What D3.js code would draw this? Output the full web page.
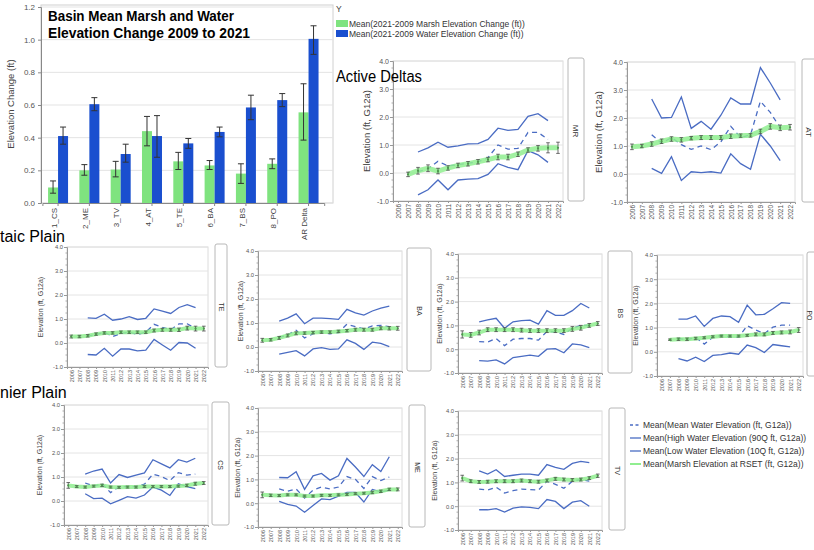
<!DOCTYPE html>
<html><head><meta charset="utf-8">
<script src="https://cdn.jsdelivr.net/npm/d3@7"></script>
<style>body{margin:0;background:#fff;} svg{display:block;font-family:"Liberation Sans",Arial,sans-serif;}</style>
</head><body><svg id="c" width="814" height="550"></svg>
<script>
// ---------- Bar chart data ----------
const barCats = ["1_CS","2_ME","3_TV","4_AT","5_TE","6_BA","7_BS","8_PO","AR Delta"];
const marshChg   = [0.095,0.20,0.205,0.44,0.255,0.23,0.18,0.24,0.555];
const marshChgLo = [0.06,0.17,0.16,0.35,0.205,0.205,0.12,0.21,0.385];
const marshChgHi = [0.135,0.235,0.255,0.53,0.31,0.26,0.24,0.27,0.73];
const waterChg   = [0.41,0.605,0.30,0.41,0.365,0.435,0.585,0.63,1.005];
const waterChgLo = [0.36,0.565,0.25,0.28,0.335,0.405,0.51,0.59,0.91];
const waterChgHi = [0.465,0.645,0.36,0.535,0.395,0.465,0.66,0.67,1.085];
const barTicks = [0,0.2,0.4,0.6,0.8,1.0,1.2];

// ---------- Panel data ----------
const years = [2006,2007,2008,2009,2010,2011,2012,2013,2014,2015,2016,2017,2018,2019,2020,2021,2022];
const panelTicks = [-1,0,1,2,3,4];

const mrHigh = [null,null,0.75,0.9,1.1,0.92,0.97,1.04,1.05,1.2,1.6,1.52,1.56,2.02,2.12,1.87,null];
const mrLow  = [null,null,-0.78,-0.6,-0.25,-0.6,-0.25,-0.22,-0.2,-0.05,0.33,0.2,0.12,0.8,0.65,0.38,null];
const mrMean = [null,null,0.05,0.15,0.42,0.25,0.3,0.35,0.4,0.55,1.0,0.85,0.88,1.45,1.45,1.2,null];
const mrMarsh= [null,-0.05,0.08,0.17,0.07,0.18,0.27,0.33,0.4,0.48,0.57,0.57,0.67,0.82,0.88,0.9,0.9];
const mrErr  = [null,0.08,0.12,0.12,0.1,0.08,0.08,0.08,0.08,0.08,0.1,0.1,0.08,0.08,0.1,0.18,0.2];

const atHigh = [null,null,2.68,2.0,2.02,2.75,1.63,1.88,1.6,2.1,2.72,2.5,2.5,3.8,3.25,2.65,null];
const atLow  = [null,null,0.2,0.02,0.62,-0.23,0.08,0.05,0.08,0.03,0.72,0.37,0.17,1.42,1.0,0.48,null];
const atMean = [null,null,1.4,1.1,1.3,1.05,0.88,1.0,0.87,1.15,1.7,1.3,1.4,2.6,2.2,1.65,null];
const atMarsh= [0.97,1.0,1.07,1.17,1.25,1.22,1.28,1.3,1.3,1.3,1.35,1.37,1.38,1.52,1.7,1.65,1.67];
const atErr  = [0.1,0.06,0.08,0.08,0.08,0.08,0.06,0.07,0.07,0.07,0.08,0.06,0.06,0.08,0.1,0.1,0.1];

const teHigh = [null,null,1.05,1.03,1.2,0.95,1.0,1.1,0.98,1.03,1.42,1.33,1.23,1.48,1.6,1.47,null];
const teLow  = [null,null,-0.48,-0.5,-0.22,-0.55,-0.25,-0.25,-0.33,-0.3,0.15,-0.08,-0.3,0.02,0.0,-0.22,null];
const teMean = [null,null,0.3,0.35,0.45,0.27,0.4,0.45,0.35,0.45,0.78,0.65,0.55,0.8,0.8,0.6,null];
const teMarsh= [0.27,0.27,0.3,0.37,0.42,0.42,0.45,0.45,0.45,0.45,0.52,0.55,0.55,0.55,0.62,0.6,0.6];
const teErr  = [0.06,0.05,0.05,0.05,0.05,0.05,0.05,0.05,0.05,0.05,0.06,0.06,0.06,0.07,0.08,0.1,0.1];

const baHigh = [null,null,1.08,1.2,1.38,0.97,1.2,1.2,1.18,1.15,1.57,1.42,1.33,1.5,1.62,1.7,null];
const baLow  = [null,null,-0.3,-0.22,-0.15,-0.37,-0.08,-0.03,-0.1,-0.08,0.3,0.15,-0.1,0.2,0.15,0.02,null];
const baMean = [null,null,0.4,0.5,0.7,0.38,0.55,0.62,0.55,0.6,0.95,0.85,0.75,0.88,0.9,0.85,null];
const baMarsh= [0.28,0.3,0.38,0.48,0.57,0.58,0.6,0.62,0.62,0.65,0.68,0.72,0.72,0.72,0.78,0.78,0.78];
const baErr  = [0.08,0.05,0.06,0.06,0.06,0.05,0.05,0.05,0.05,0.05,0.05,0.06,0.06,0.06,0.06,0.07,0.08];

const bsHigh = [null,null,1.15,1.23,1.3,0.88,1.15,1.2,1.22,1.05,1.62,1.42,1.42,1.62,1.92,1.73,null];
const bsLow  = [null,null,-0.48,-0.5,-0.45,-0.62,-0.35,-0.3,-0.25,-0.3,0.0,0.02,-0.15,0.22,0.18,0.07,null];
const bsMean = [null,null,0.32,0.3,0.45,0.15,0.42,0.45,0.45,0.38,0.75,0.72,0.62,0.88,1.0,1.0,null];
const bsMarsh= [0.62,0.6,0.7,0.82,0.82,0.82,0.82,0.8,0.78,0.78,0.78,0.78,0.78,0.85,0.9,1.0,1.08];
const bsErr  = [0.15,0.1,0.1,0.08,0.08,0.08,0.08,0.08,0.08,0.08,0.08,0.08,0.08,0.1,0.1,0.08,0.08];

const poHigh = [null,null,1.35,1.35,1.48,1.05,1.38,1.48,1.45,1.22,1.93,1.53,1.55,1.78,2.03,2.0,null];
const poLow  = [null,null,-0.28,-0.38,-0.22,-0.4,-0.15,-0.12,-0.05,-0.1,0.28,0.17,-0.03,0.3,0.25,0.2,null];
const poMean = [null,null,0.55,0.5,0.6,0.32,0.6,0.68,0.62,0.6,1.08,0.9,0.75,1.02,1.1,1.1,null];
const poMarsh= [null,0.5,0.52,0.52,0.55,0.58,0.62,0.65,0.65,0.65,0.68,0.72,0.72,0.78,0.8,0.82,0.9];
const poErr  = [null,0.03,0.05,0.05,0.05,0.04,0.04,0.04,0.04,0.04,0.04,0.06,0.06,0.06,0.06,0.08,0.1];

const csHigh = [null,null,1.12,1.25,1.33,0.75,1.1,0.98,1.08,1.17,1.72,1.55,1.38,1.72,1.62,1.78,null];
const csLow  = [null,null,0.3,0.1,0.12,-0.12,0.03,0.18,0.12,0.25,0.58,0.45,0.23,0.72,0.6,0.52,null];
const csMean = [null,null,0.75,0.62,0.72,0.35,0.6,0.6,0.6,0.7,1.12,1.02,0.85,1.18,1.08,1.12,null];
const csMarsh= [0.65,0.6,0.58,0.62,0.65,0.58,0.57,0.58,0.58,0.6,0.6,0.6,0.6,0.62,0.65,0.72,0.75];
const csErr  = [0.12,0.04,0.04,0.04,0.05,0.04,0.04,0.04,0.04,0.04,0.04,0.04,0.04,0.04,0.05,0.06,0.06];

const meHigh = [null,null,1.08,1.07,1.32,0.58,1.15,1.25,0.97,1.15,1.88,1.52,1.12,1.62,1.33,1.95,null];
const meLow  = [null,null,0.08,-0.05,-0.12,-0.38,-0.1,0.18,0.15,0.3,0.45,0.45,0.05,0.58,0.48,0.55,null];
const meMean = [null,null,0.6,0.5,0.6,0.22,0.55,0.68,0.6,0.68,1.12,1.0,0.62,1.12,0.95,1.1,null];
const meMarsh= [0.35,0.33,0.32,0.35,0.35,0.3,0.3,0.33,0.33,0.35,0.37,0.4,0.42,0.45,0.5,0.58,0.58];
const meErr  = [0.12,0.05,0.04,0.04,0.04,0.04,0.04,0.04,0.04,0.04,0.04,0.04,0.04,0.05,0.05,0.05,0.06];

const tvHigh = [null,null,1.48,1.35,1.53,1.25,1.3,1.35,1.35,1.3,1.75,1.63,1.55,1.8,1.88,1.83,null];
const tvLow  = [null,null,-0.15,-0.15,-0.1,-0.25,-0.08,-0.03,-0.05,-0.1,0.28,0.2,-0.1,0.17,0.23,0.0,null];
const tvMean = [null,null,0.72,0.68,0.8,0.55,0.65,0.72,0.7,0.68,1.05,0.92,0.75,1.05,1.12,1.05,null];
const tvMarsh= [1.18,1.05,1.02,1.03,1.05,1.05,1.05,1.08,1.05,1.03,1.08,1.15,1.12,1.1,1.12,1.18,1.28];
const tvErr  = [0.12,0.06,0.06,0.06,0.06,0.06,0.06,0.06,0.06,0.06,0.06,0.06,0.06,0.06,0.06,0.06,0.07];

const legendLabels = [
  "Mean(Mean Water Elevation (ft, G12a))",
  "Mean(High Water Elevation (90Q ft, G12a))",
  "Mean(Low Water Elevation (10Q ft, G12a))",
  "Mean(Marsh Elevation at RSET (ft, G12a))"
];
const barLegend = ["Mean(2021-2009 Marsh Elevation Change (ft))","Mean(2021-2009 Water Elevation Change (ft))"];

// ---------- colours ----------
const GREEN_BAR = "#7fe37f", BLUE_BAR = "#1a4fcf";
const LINE_BLUE = "#4a6cc3", LINE_GREEN = "#90ee90";

const svg = d3.select("#c");

// ================= BAR CHART =================
(function(){
  const L=41, R=333, T=5, B=203;
  const g = svg.append("g");
  const y = d3.scaleLinear().domain([0,1.2]).range([B,7]);
  const x = d3.scaleBand().domain(barCats).range([42.4,324.2]);
  const xs = d3.scaleBand().domain(["m","w"]).range([x.bandwidth()/2-10, x.bandwidth()/2+10]);
  g.append("rect").attr("x",L).attr("y",T).attr("width",R-L).attr("height",B-T)
    .attr("fill","none").attr("stroke","#d0d0d0");
  g.selectAll("line.grid").data(barTicks).join("line")
    .attr("x1",L).attr("x2",R).attr("y1",d=>y(d)).attr("y2",d=>y(d))
    .attr("stroke","#e3e3e3");
  const ya = g.append("g").attr("transform",`translate(${L},0)`)
    .call(d3.axisLeft(y).tickValues(barTicks).tickFormat(d=>d.toFixed(1)).tickSize(3));
  ya.select(".domain").attr("stroke","#888");
  ya.selectAll("line").attr("stroke","#888");
  ya.selectAll("text").attr("font-size",8).attr("fill","#555");
  const xa = g.append("g").attr("transform",`translate(0,${B})`)
    .call(d3.axisBottom(x).tickSize(3));
  xa.select(".domain").attr("stroke","#888");
  xa.selectAll("line").attr("stroke","#888");
  xa.selectAll("text").attr("font-size",8).attr("fill","#444")
    .attr("transform","rotate(-90)").attr("text-anchor","end").attr("x",-5).attr("y",-4).attr("dy","0.35em");
  const rows = barCats.map((c,i)=>({c, m:marshChg[i], mlo:marshChgLo[i], mhi:marshChgHi[i], w:waterChg[i], wlo:waterChgLo[i], whi:waterChgHi[i]}));
  g.selectAll("rect.m").data(rows).join("rect")
    .attr("x",d=>x(d.c)+xs("m")).attr("width",xs.bandwidth())
    .attr("y",d=>y(d.m)).attr("height",d=>y(0)-y(d.m)).attr("fill",GREEN_BAR);
  g.selectAll("rect.w").data(rows).join("rect")
    .attr("x",d=>x(d.c)+xs("w")).attr("width",xs.bandwidth())
    .attr("y",d=>y(d.w)).attr("height",d=>y(0)-y(d.w)).attr("fill",BLUE_BAR);
  const eb = (key,lo,hi)=>{
    const cx = d=>x(d.c)+xs(key)+xs.bandwidth()/2;
    g.selectAll(null).data(rows).join("path")
      .attr("d",d=>`M${cx(d)},${y(d[lo])}V${y(d[hi])}M${cx(d)-3},${y(d[lo])}h6M${cx(d)-3},${y(d[hi])}h6`)
      .attr("stroke","#333").attr("stroke-width",1).attr("fill","none");
  };
  eb("m","mlo","mhi"); eb("w","wlo","whi");
  g.append("text").attr("transform",`translate(14,${(T+B)/2}) rotate(-90)`)
    .attr("text-anchor","middle").attr("font-size",9.5).attr("fill","#444").text("Elevation Change (ft)");
  g.append("text").attr("x",48).attr("y",21).attr("font-weight","bold").attr("font-size",14.5)
    .attr("textLength",186).attr("lengthAdjust","spacingAndGlyphs").text("Basin Mean Marsh and Water");
  g.append("text").attr("x",48).attr("y",38).attr("font-weight","bold").attr("font-size",14.5)
    .attr("textLength",202).attr("lengthAdjust","spacingAndGlyphs").text("Elevation Change 2009 to 2021");
  // legend
  const lg = svg.append("g");
  lg.append("text").attr("x",336).attr("y",12).attr("font-size",8.5).attr("fill","#444").text("Y");
  [GREEN_BAR,BLUE_BAR].forEach((c,i)=>{
    lg.append("rect").attr("x",336).attr("y",20+i*10).attr("width",12).attr("height",7).attr("fill",c);
    lg.append("text").attr("x",349).attr("y",26.5+i*10).attr("font-size",8.5).attr("fill","#333").text(barLegend[i]);
  });
})();

// ================= PANELS =================
const layout = [
  {l:393,r:563,t:61,b:201,sx:568,sw:16,yl:370,big:true},
  {l:627,r:795,t:62,b:202,sx:802,sw:18,yl:602,big:true},
  {l:67,r:208,t:247,b:367,sx:215,sw:12,yl:43},
  {l:258,r:402,t:251,b:371,sx:407,sw:24,yl:243},
  {l:458,r:602,t:254,b:373,sx:608,sw:24,yl:442},
  {l:657,r:803,t:255,b:376,sx:807,sw:24,yl:638},
  {l:64,r:208,t:405,b:525,sx:212,sw:17,yl:42},
  {l:258,r:402,t:408,b:527,sx:409,sw:16,yl:240},
  {l:458,r:602,t:411,b:530,sx:609,sw:16,yl:437}
];
const panels = [
  {id:"MR",high:mrHigh,low:mrLow,mean:mrMean,marsh:mrMarsh,err:mrErr},
  {id:"AT",high:atHigh,low:atLow,mean:atMean,marsh:atMarsh,err:atErr},
  {id:"TE",high:teHigh,low:teLow,mean:teMean,marsh:teMarsh,err:teErr},
  {id:"BA",high:baHigh,low:baLow,mean:baMean,marsh:baMarsh,err:baErr},
  {id:"BS",high:bsHigh,low:bsLow,mean:bsMean,marsh:bsMarsh,err:bsErr},
  {id:"PO",high:poHigh,low:poLow,mean:poMean,marsh:poMarsh,err:poErr},
  {id:"CS",high:csHigh,low:csLow,mean:csMean,marsh:csMarsh,err:csErr},
  {id:"ME",high:meHigh,low:meLow,mean:meMean,marsh:meMarsh,err:meErr},
  {id:"TV",high:tvHigh,low:tvLow,mean:tvMean,marsh:tvMarsh,err:tvErr}
];

panels.forEach((p,i)=>{
  const L = layout[i];
  const g = svg.append("g");
  const x = d3.scalePoint().domain(years).range([L.l,L.r]).padding(0.5);
  const y = d3.scaleLinear().domain([-1,4]).range([L.b,L.t]);
  const fsT = L.big?7:5.8, fsY = L.big?6.5:5.5, fsL = L.big?9.5:7;
  g.append("rect").attr("x",L.l).attr("y",L.t).attr("width",L.r-L.l).attr("height",L.b-L.t)
    .attr("fill","#fff").attr("stroke","#dcdcdc");
  g.selectAll(null).data(panelTicks).join("line")
    .attr("x1",L.l).attr("x2",L.r).attr("y1",d=>y(d)).attr("y2",d=>y(d)).attr("stroke","#e4e4e4");
  const ya = g.append("g").attr("transform",`translate(${L.l},0)`)
    .call(d3.axisLeft(y).tickValues(panelTicks).tickFormat(d=>d.toFixed(1)).tickSize(3));
  ya.select(".domain").attr("stroke","#999");
  ya.selectAll("line").attr("stroke","#999");
  ya.selectAll("text").attr("font-size",fsT).attr("fill","#555").attr("x",-4);
  g.selectAll(null).data(d3.range(-1,4.01,0.25).filter(v=>Math.abs(v-Math.round(v))>0.01)).join("line")
    .attr("x1",L.l-1.5).attr("x2",L.l).attr("y1",d=>y(d)).attr("y2",d=>y(d)).attr("stroke","#aaa");
  const xa = g.append("g").attr("transform",`translate(0,${L.b})`)
    .call(d3.axisBottom(x).tickSize(2));
  xa.select(".domain").attr("stroke","#999");
  xa.selectAll("line").attr("stroke","#999");
  xa.selectAll("text").attr("font-size",fsY).attr("fill","#555")
    .attr("transform","rotate(-90)").attr("text-anchor","end").attr("x",-3).attr("y",0).attr("dy","0.35em");
  g.append("text").attr("transform",`translate(${L.yl},${(L.t+L.b)/2}) rotate(-90)`)
    .attr("text-anchor","middle").attr("font-size",fsL).attr("fill","#444").text("Elevation (ft, G12a)");
  // strip
  g.append("rect").attr("x",L.sx).attr("y",L.t-3).attr("width",L.sw).attr("height",L.b-L.t+3)
    .attr("rx",2).attr("fill","#fff").attr("stroke","#b8b8b8");
  g.append("text").attr("transform",`translate(${Math.min(L.sx+L.sw/2,809)},${(L.t+L.b)/2}) rotate(90)`)
    .attr("text-anchor","middle").attr("dy","0.35em").attr("font-size",L.big?8:7).attr("fill","#333").text(p.id);
  const pts = arr => years.map((yr,k)=>({yr, v:arr[k], e:p.err[k]}));
  const line = d3.line().defined(d=>d.v!==null).x(d=>x(d.yr)).y(d=>y(d.v));
  g.append("path").attr("d",line(pts(p.high))).attr("fill","none").attr("stroke",LINE_BLUE).attr("stroke-width",1.3);
  g.append("path").attr("d",line(pts(p.low))).attr("fill","none").attr("stroke",LINE_BLUE).attr("stroke-width",1.3);
  g.append("path").attr("d",line(pts(p.mean))).attr("fill","none").attr("stroke",LINE_BLUE)
    .attr("stroke-width",1.3).attr("stroke-dasharray","5,4");
  const mp = pts(p.marsh);
  g.append("path").attr("d",line(mp)).attr("fill","none").attr("stroke",LINE_GREEN)
    .attr("stroke-width",L.big?5:4).attr("stroke-opacity",0.85);
  const md = mp.filter(d=>d.v!==null);
  g.selectAll(null).data(md).join("path")
    .attr("d",d=>`M${x(d.yr)},${y(d.v-d.e)}V${y(d.v+d.e)}M${x(d.yr)-1.8},${y(d.v-d.e)}h3.6M${x(d.yr)-1.8},${y(d.v+d.e)}h3.6`)
    .attr("stroke","#4a4a4a").attr("stroke-width",0.8).attr("fill","none");
  g.selectAll(null).data(md).join("circle")
    .attr("cx",d=>x(d.yr)).attr("cy",d=>y(d.v)).attr("r",1.1).attr("fill","#4a9a4a");
});

// ================= GROUP LABELS (on top of panels) =================
svg.append("text").attr("x",336).attr("y",82).attr("font-size",16).attr("textLength",86)
  .attr("lengthAdjust","spacingAndGlyphs").text("Active Deltas");
svg.append("text").attr("x",0).attr("y",242).attr("font-size",16).text("taic Plain");
svg.append("text").attr("x",0).attr("y",398).attr("font-size",16).text("nier Plain");

// ================= LINE LEGEND =================
(function(){
  const g = svg.append("g");
  legendLabels.forEach((t,i)=>{
    const yy = 425+i*13;
    const ln = g.append("line").attr("x1",630).attr("x2",641).attr("y1",yy).attr("y2",yy)
      .attr("stroke", i===3?LINE_GREEN:LINE_BLUE).attr("stroke-width", i===3?2:1.3);
    if(i===0) ln.attr("stroke-dasharray","3,2.5");
    g.append("text").attr("x",643).attr("y",yy+3).attr("font-size",8.5).attr("fill","#333").text(t);
  });
})();
</script></body></html>
